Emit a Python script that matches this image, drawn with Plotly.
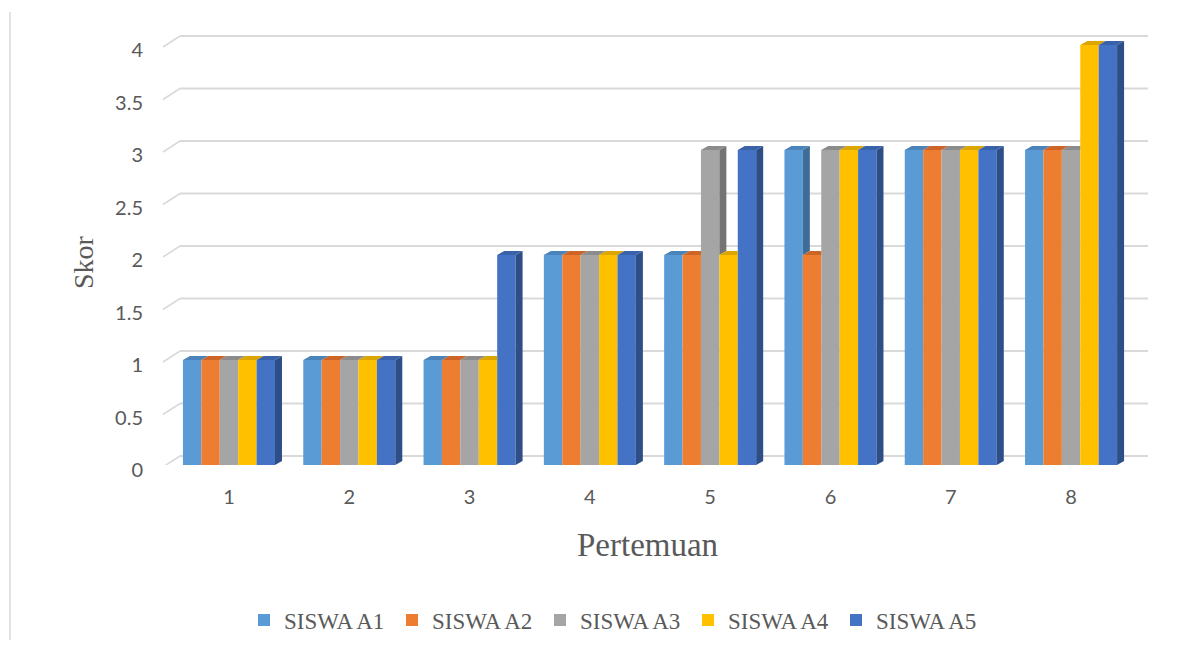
import plotly.graph_objects as go

# ---- data ----
pertemuan = [1, 2, 3, 4, 5, 6, 7, 8]
siswa_a1 = [1, 1, 1, 2, 2, 3, 3, 3]
siswa_a2 = [1, 1, 1, 2, 2, 2, 3, 3]
siswa_a3 = [1, 1, 1, 2, 3, 3, 3, 3]
siswa_a4 = [1, 1, 1, 2, 2, 3, 3, 4]
siswa_a5 = [1, 1, 2, 2, 3, 3, 3, 4]
series_names = ["SISWA A1", "SISWA A2", "SISWA A3", "SISWA A4", "SISWA A5"]
y_ticks = [0, 0.5, 1, 1.5, 2, 2.5, 3, 3.5, 4]
x_title = "Pertemuan"
y_title = "Skor"

series_values = [siswa_a1, siswa_a2, siswa_a3, siswa_a4, siswa_a5]

# ---- style ----
front_colors = ["#5B9BD5", "#ED7D31", "#A5A5A5", "#FFC000", "#4472C4"]
top_colors = ["#4A84BA", "#CC6527", "#8C8C8C", "#DDA500", "#3A62AA"]
side_colors = ["#3E6C97", "#A65720", "#747474", "#B78900", "#2E4E87"]
text_color = "#595959"
grid_color = "#D9D9D9"

# geometry (px -> data units)
PX_X = 120.3     # px per category
PX_Y = 105.0     # px per score unit
W_GROUP = 0.765
W_BAR = W_GROUP / 5
DX = 7 / PX_X
DY = 4 / PX_Y
GRID_OFF = 9 / PX_Y

L_MARGIN, R_MARGIN, T_MARGIN, B_MARGIN = 180, 40, 30, 185
PLOT_W = 1188 - L_MARGIN - R_MARGIN
PLOT_H = 650 - T_MARGIN - B_MARGIN
x_lo = 0.593
x_hi = x_lo + PLOT_W / PX_X
y_hi = PLOT_H / PX_Y

fig = go.Figure()

# front faces as real bars
for i, (name, vals) in enumerate(zip(series_names, series_values)):
    fig.add_trace(go.Bar(
        x=pertemuan, y=vals, name=name,
        width=W_BAR, offset=-W_GROUP / 2 + i * W_BAR,
        marker=dict(color=front_colors[i], line=dict(width=0)),
    ))

# 3D top & side faces, computed from the same data
for i, vals in enumerate(series_values):
    nxt = series_values[i + 1] if i < 4 else [0] * len(vals)
    tx, ty, sx, sy = [], [], [], []
    for k, (c, h) in enumerate(zip(pertemuan, vals)):
        hn = nxt[k]
        l = c - W_GROUP / 2 + i * W_BAR
        r = l + W_BAR
        right_top = r if hn > h else r + DX
        tx += [l, l + DX, right_top, r, l, None]
        ty += [h, h + DY, h + DY, h, h, None]
        if hn < h:
            sx += [r, r + DX, r + DX, r, r, None]
            sy += [hn, hn + DY, h + DY, h, hn, None]
    fig.add_trace(go.Scatter(x=sx, y=sy, fill="toself", mode="lines",
                             line=dict(width=0), fillcolor=side_colors[i],
                             showlegend=False, hoverinfo="skip"))
    fig.add_trace(go.Scatter(x=tx, y=ty, fill="toself", mode="lines",
                             line=dict(width=0), fillcolor=top_colors[i],
                             showlegend=False, hoverinfo="skip"))

# back-wall gridlines (offset for the 3D depth) and left-wall stubs
shapes = []
for v in y_ticks:
    shapes.append(dict(type="line", xref="paper", yref="y",
                       x0=0, y0=v + GRID_OFF, x1=1, y1=v + GRID_OFF,
                       line=dict(color=grid_color, width=1.8), layer="below"))
    shapes.append(dict(type="line", xref="paper", yref="y",
                       x0=-17 / PLOT_W, y0=v - 2 / PX_Y, x1=0, y1=v + GRID_OFF,
                       line=dict(color=grid_color, width=1.5), layer="below"))
# left border line of the picture
shapes.append(dict(type="line", xref="paper", yref="paper",
                   x0=(10 - L_MARGIN) / PLOT_W, x1=(10 - L_MARGIN) / PLOT_W,
                   y0=(650 - B_MARGIN - 640) / PLOT_H, y1=(650 - B_MARGIN - 12) / PLOT_H,
                   line=dict(color="#D9D9D9", width=1.5)))

fig.update_layout(
    template="none",
    width=1188, height=650,
    margin=dict(l=L_MARGIN, r=R_MARGIN, t=T_MARGIN, b=B_MARGIN, autoexpand=False),
    paper_bgcolor="white", plot_bgcolor="white",
    barmode="overlay",
    showlegend=True,
    legend=dict(orientation="h", x=(244 - L_MARGIN) / PLOT_W, xanchor="left",
                y=-(620 - (650 - B_MARGIN)) / PLOT_H, yanchor="middle",
                font=dict(family="Liberation Serif", size=23, color=text_color),
                entrywidth=103, itemwidth=30, bgcolor="rgba(0,0,0,0)",
                traceorder="normal"),
    xaxis=dict(range=[x_lo, x_hi], tickvals=pertemuan,
               ticktext=[str(p) for p in pertemuan], automargin=False,
               showgrid=False, zeroline=False, showline=False, ticks="",
               ticklabelstandoff=18,
               tickfont=dict(family="Lato", size=20, color=text_color)),
    yaxis=dict(range=[0, y_hi], tickvals=y_ticks,
               ticktext=[f"{t:g}" for t in y_ticks], automargin=False,
               showgrid=False, zeroline=False, showline=False, ticks="",
               ticklabelstandoff=36, ticklabelshift=5,
               tickfont=dict(family="Lato", size=20, color=text_color)),
    shapes=shapes,
    annotations=[
        dict(text=x_title, xref="paper", yref="paper",
             x=(647 - L_MARGIN) / PLOT_W, y=-(545 - (650 - B_MARGIN)) / PLOT_H,
             xanchor="center", yanchor="middle", showarrow=False,
             font=dict(family="Liberation Serif", size=33, color=text_color)),
        dict(text=y_title, xref="paper", yref="paper", textangle=-90,
             x=(83 - L_MARGIN) / PLOT_W, y=(650 - B_MARGIN - 262) / PLOT_H,
             xanchor="center", yanchor="middle", showarrow=False,
             font=dict(family="Liberation Serif", size=28, color=text_color)),
    ],
)

fig.write_html("out.html", config={"displayModeBar": False},
               post_script="document.body.style.margin='0';")
